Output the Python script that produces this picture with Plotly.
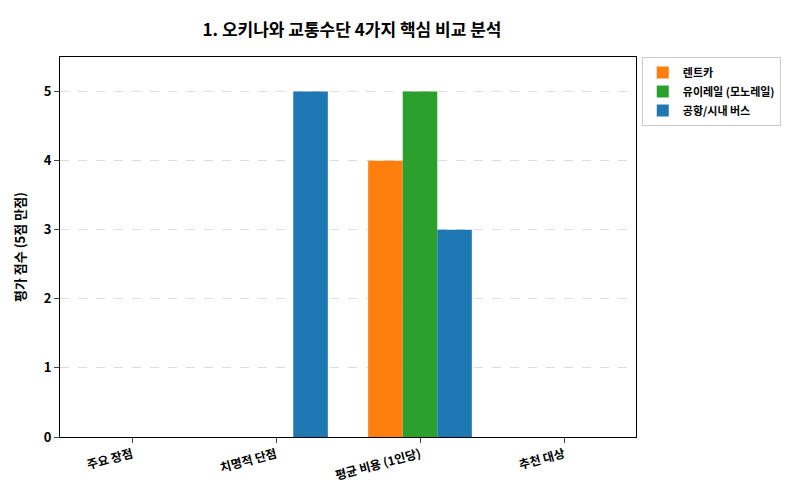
import plotly.graph_objects as go

categories = ["주요 장점", "치명적 단점", "평균 비용 (1인당)", "추천 대상"]
rent = [0, 0, 4, 0]
monorail = [0, 0, 5, 0]
bus = [0, 5, 3, 0]

FONT = "Noto Sans CJK KR"
fig = go.Figure()
for name, vals, col in [("렌트카", rent, "#ff7f0e"),
                        ("유이레일 (모노레일)", monorail, "#2ca02c"),
                        ("공항/시내 버스", bus, "#1f77b4")]:
    fig.add_bar(x=categories, y=vals, name=f"<b>{name}</b>", marker_color=col, marker_line_width=0)

fig.update_layout(
    width=800, height=500, barmode="group", bargap=0.28, bargroupgap=0,
    plot_bgcolor="white", paper_bgcolor="white",
    font=dict(family=FONT, size=12, color="black"),
    title=dict(text="<b>1. 오키나와 교통수단 4가지 핵심 비교 분석</b>", x=0.43, xanchor="center",
               y=0.955, yanchor="middle", font=dict(size=17)),
    margin=dict(l=48, r=172, t=49, b=71),
    legend=dict(x=1.01, y=1.0, xanchor="left", yanchor="top", bordercolor="#cccccc",
                borderwidth=1, font=dict(size=11), tracegroupgap=0),
    xaxis=dict(showline=True, linecolor="black", mirror=True, tickangle=-15,
               ticks="outside", tickfont=dict(size=12), tickprefix="<b>", ticksuffix="</b>"),
    yaxis=dict(range=[0, 5.5], dtick=1, showline=True, linecolor="black", mirror=True,
               ticks="outside", showgrid=True, gridcolor="#dddddd", griddash="dash",
               title=dict(text="<b>평가 점수 (5점 만점)</b>", font=dict(size=13)),
               tickfont=dict(size=13), tickprefix="<b>", ticksuffix="</b>"),
)
fig.write_html("out.html")
